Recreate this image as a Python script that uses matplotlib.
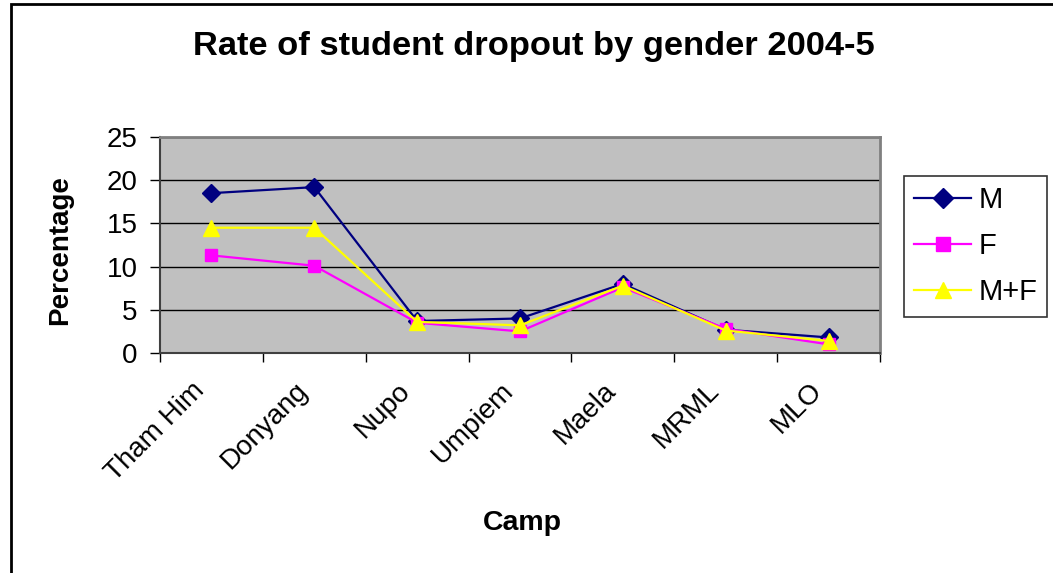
import matplotlib
matplotlib.use("Agg")
import matplotlib.pyplot as plt
from matplotlib.patches import Rectangle
from matplotlib.transforms import ScaledTranslation

plt.rcParams['font.family'] = ['Liberation Sans', 'DejaVu Sans']

camps = ['Tham Him', 'Donyang', 'Nupo', 'Umpiem', 'Maela', 'MRML', 'MLO']
male = [18.5, 19.2, 3.7, 4.0, 8.0, 2.7, 1.8]
female = [11.3, 10.1, 3.5, 2.5, 7.6, 2.8, 1.0]
both = [14.5, 14.5, 3.6, 3.2, 7.8, 2.6, 1.4]
yticks = [0, 5, 10, 15, 20, 25]

fig = plt.figure(figsize=(10.53, 5.73), dpi=100)
# outer chart border
fig.patches.append(Rectangle((10.5 / 1053, -0.05), 1.2, 1 - 3.5 / 573 + 0.05,
                             transform=fig.transFigure, fill=False,
                             edgecolor='black', linewidth=2))

ax = fig.add_axes([160 / 1053, 1 - 353 / 573, 720 / 1053, 216 / 573])
ax.set_facecolor('#c0c0c0')

x = list(range(len(camps)))
ax.plot(x, male, color='#000080', marker='D', markersize=9.5, linewidth=1.6, label='M', zorder=3)
ax.plot(x, female, color='#ff00ff', marker='s', markersize=9, linewidth=1.6, label='F', zorder=4)
ax.plot(x, both, color='#ffff00', marker='^', markersize=11, linewidth=1.6, label='M+F', zorder=5)

ax.set_xlim(-0.5, len(camps) - 0.5)
ax.set_ylim(0, 25)
ax.set_yticks(yticks)
ax.yaxis.grid(True, color='black', linewidth=1)
ax.set_axisbelow(True)
ax.tick_params(axis='y', direction='out', length=7, width=1, labelsize=20, pad=9)

ax.set_xticks(x)
ax.set_xticklabels(camps, rotation=45, ha='right', va='top', rotation_mode='anchor', fontsize=20)
ax.tick_params(axis='x', which='major', length=0, pad=20)
shift = ScaledTranslation(-20 / 100, 3 / 100, fig.dpi_scale_trans)
for lbl in ax.get_xticklabels():
    lbl.set_transform(lbl.get_transform() + shift)
ax.set_xticks([i - 0.5 for i in range(len(camps) + 1)], minor=True)
ax.tick_params(axis='x', which='minor', direction='out', length=6.5, width=1)

for side in ['top', 'right']:
    ax.spines[side].set_color('#808080')
    ax.spines[side].set_linewidth(2)
ax.spines['left'].set_color('#404040')
ax.spines['bottom'].set_color('#404040')
ax.spines['left'].set_linewidth(1.5)
ax.spines['bottom'].set_linewidth(1.5)

fig.text(534 / 1053, 1 - 47 / 573, 'Rate of student dropout by gender 2004-5',
         ha='center', va='center', fontsize=24.8, fontweight='bold')
fig.text(522 / 1053, 1 - 523 / 573, 'Camp', ha='center', va='center',
         fontsize=20.5, fontweight='bold')
fig.text(60 / 1053, 1 - 250 / 573, 'Percentage', ha='center', va='center',
         rotation=90, fontsize=20, fontweight='bold')

leg = fig.legend(loc='upper left', bbox_to_anchor=(904 / 1053, 1 - 176 / 573),
                 fontsize=21, frameon=True, fancybox=False, edgecolor='black',
                 handlelength=1.95, borderpad=0.35, labelspacing=0.62, handletextpad=0.25,
                 borderaxespad=0, markerscale=1.1)
leg.get_frame().set_linewidth(1.2)

fig.savefig('out.png', dpi=100)
